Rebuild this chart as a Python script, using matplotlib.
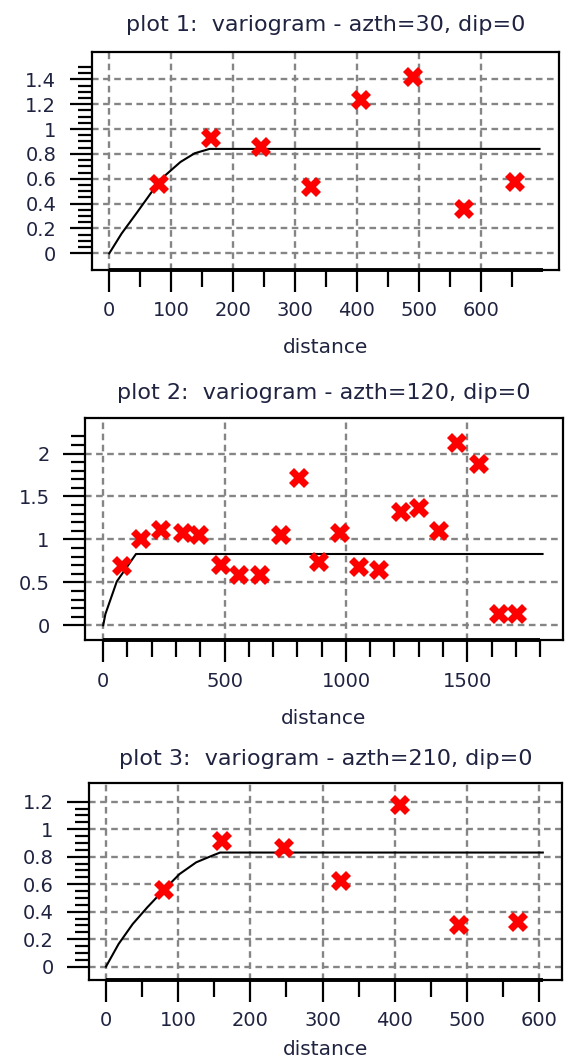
import matplotlib.pyplot as plt
from matplotlib.ticker import FuncFormatter
import numpy as np

dist1 = [80, 165, 245, 326, 406, 491, 573, 655]
gam1 = [0.555, 0.93, 0.858, 0.536, 1.236, 1.42, 0.358, 0.57]

dist2 = [79, 156, 239, 328, 395, 484, 561, 646, 732, 806, 891,
         977, 1054, 1138, 1226, 1300, 1385, 1459, 1548, 1632, 1704]
gam2 = [0.686, 1.0, 1.11, 1.07, 1.05, 0.698, 0.588, 0.588, 1.05, 1.714, 0.733,
        1.078, 0.678, 0.639, 1.315, 1.365, 1.097, 2.12, 1.875, 0.13, 0.13]

dist3 = [80, 161, 246, 326, 407, 489, 570]
gam3 = [0.558, 0.916, 0.861, 0.625, 1.174, 0.30, 0.327]

# fitted model curves
mod1_x = [0, 20, 45, 68, 91, 115, 138, 162, 695]
mod1_y = [0, 0.16, 0.33, 0.49, 0.63, 0.735, 0.805, 0.84, 0.84]
mod2_x = [0, 9, 56, 135, 1810]
mod2_y = [0, 0.13, 0.51, 0.83, 0.83]
mod3_x = [0, 17.5, 37, 57, 80, 102, 125, 147, 158, 605]
mod3_y = [0, 0.165, 0.31, 0.43, 0.558, 0.674, 0.759, 0.807, 0.83, 0.83]

titles = ['plot 1:  variogram - azth=30, dip=0',
          'plot 2:  variogram - azth=120, dip=0',
          'plot 3:  variogram - azth=210, dip=0']

W, H = 565, 1057
fig = plt.figure(figsize=(W / 100, H / 100), dpi=100)

# box edges in pixels: left, right, top, bottom
boxes = [(91.7, 559, 51.7, 270), (85, 562.7, 418.3, 640.3), (89, 562.3, 782.7, 980)]
xlims = [(-28.4, 726.5), (-75, 1893), (-23.5, 632)]
ylims = [(-0.134, 1.622), (-0.175, 2.41), (-0.097, 1.338)]
xmajor = [np.arange(0, 601, 100), np.arange(0, 1501, 500), np.arange(0, 601, 100)]
xminor = [np.arange(50, 651, 100), np.arange(0, 1801, 100), np.arange(50, 551, 100)]
ymajor = [np.arange(0, 1.41, 0.2), np.arange(0, 2.01, 0.5), np.arange(0, 1.21, 0.2)]
yminor = [np.arange(0, 1.51, 0.05), np.arange(0, 2.21, 0.1), np.arange(0, 1.21, 0.05)]
xaxis_end = [700, 1800, 605]
xlabel_pad = [13, 13, 7]
title_pad = [15, 14, 13]

data = [(dist1, gam1, mod1_x, mod1_y), (dist2, gam2, mod2_x, mod2_y),
        (dist3, gam3, mod3_x, mod3_y)]

txt_col = '#1f2340'
fmt = FuncFormatter(lambda v, p: '%g' % round(v, 3))

for i in range(3):
    l, r, t, b = boxes[i]
    ax = fig.add_axes([l / W, 1 - b / H, (r - l) / W, (b - t) / H])
    dx, dy, mx, my = data[i]

    ax.grid(True, color='#858585', lw=1.7, linestyle=(0, (2.8, 1.9)))
    ax.set_axisbelow(True)
    ax.plot(mx, my, color='black', lw=1.5, zorder=3)
    ax.plot(dx, dy, linestyle='none', marker='X', ms=14.5, mew=0,
            color='red', zorder=4)

    ax.set_xlim(*xlims[i])
    ax.set_ylim(*ylims[i])
    ax.set_xticks(xmajor[i])
    ax.set_xticks(xminor[i], minor=True)
    ax.set_yticks(ymajor[i])
    ax.set_yticks(yminor[i], minor=True)
    ax.xaxis.set_major_formatter(fmt)
    ax.yaxis.set_major_formatter(fmt)

    ax.tick_params(which='major', length=15.5, width=1.6, direction='out',
                   labelsize=14, labelcolor=txt_col)
    ax.tick_params(axis='y', which='major', pad=10)
    ax.tick_params(axis='x', which='major', pad=7)
    ax.tick_params(axis='y', which='minor', length=10, width=1.6)
    ax.tick_params(axis='x', which='minor', length=12, width=1.6)
    ax.grid(False, which='minor')

    for s in ax.spines.values():
        s.set_linewidth(1.6)

    # heavier axis line along the bottom of the box
    ax.plot([0, xaxis_end[i]], [0, 0], transform=ax.get_xaxis_transform(),
            color='black', lw=2.8, clip_on=False, solid_capstyle='butt', zorder=5)

    ax.set_title(titles[i], fontsize=16, color=txt_col, pad=title_pad[i])
    ax.set_xlabel('distance', fontsize=14.5, color=txt_col, labelpad=xlabel_pad[i])

fig.savefig('out.png', dpi=100)
